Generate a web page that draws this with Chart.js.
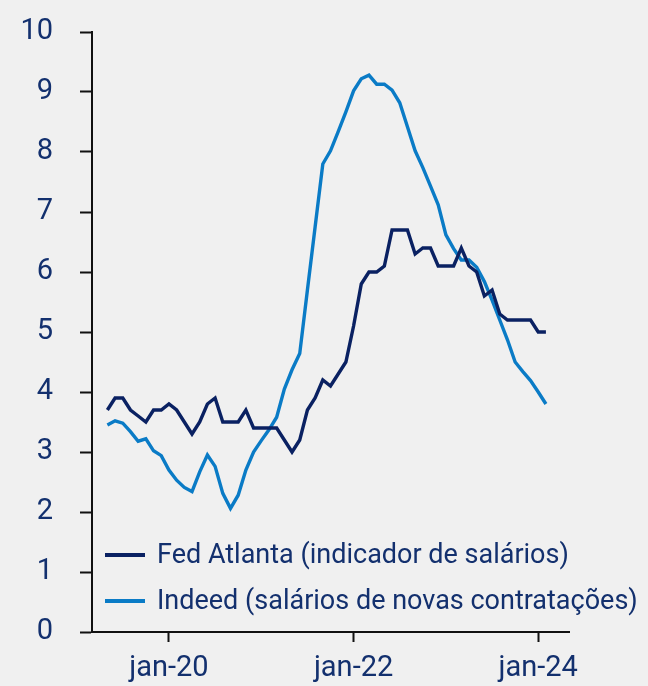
<!DOCTYPE html>
<html>
<head>
<meta charset="utf-8">
<script src="https://cdn.jsdelivr.net/npm/chart.js@4/dist/chart.umd.min.js"></script>
<style>
  html, body { margin: 0; padding: 0; background: #f0f0f0; }
  #wrap { position: relative; width: 648px; height: 686px; }
</style>
</head>
<body>
<div id="wrap"><canvas id="c" width="648" height="686"></canvas></div>
<script>
// Months (YYYY-MM)
const months = [
  '2019-05','2019-06','2019-07','2019-08','2019-09','2019-10','2019-11','2019-12',
  '2020-01','2020-02','2020-03','2020-04','2020-05','2020-06','2020-07','2020-08','2020-09','2020-10','2020-11','2020-12',
  '2021-01','2021-02','2021-03','2021-04','2021-05','2021-06','2021-07','2021-08','2021-09','2021-10','2021-11','2021-12',
  '2022-01','2022-02','2022-03','2022-04','2022-05','2022-06','2022-07','2022-08','2022-09','2022-10','2022-11','2022-12',
  '2023-01','2023-02','2023-03','2023-04','2023-05','2023-06','2023-07','2023-08','2023-09','2023-10','2023-11','2023-12',
  '2024-01','2024-02'
];
// Fed Atlanta wage growth tracker (%)
const fedAtlanta = [
  3.7, 3.9, 3.9, 3.7, 3.6, 3.5, 3.7, 3.7,
  3.8, 3.7, 3.5, 3.3, 3.5, 3.8, 3.9, 3.5, 3.5, 3.5, 3.7, 3.4,
  3.4, 3.4, 3.4, 3.2, 3.0, 3.2, 3.7, 3.9, 4.2, 4.1, 4.3, 4.5,
  5.1, 5.8, 6.0, 6.0, 6.1, 6.7, 6.7, 6.7, 6.3, 6.4, 6.4, 6.1,
  6.1, 6.1, 6.4, 6.1, 6.0, 5.6, 5.7, 5.3, 5.2, 5.2, 5.2, 5.2,
  5.0, 5.0
];
// Indeed posted wages for new hires (%)
const indeed = [
  3.45, 3.52, 3.48, 3.34, 3.18, 3.22, 3.02, 2.94,
  2.70, 2.53, 2.41, 2.34, 2.67, 2.95, 2.76, 2.31, 2.06, 2.28, 2.70, 3.00,
  3.19, 3.37, 3.58, 4.05, 4.37, 4.64, 5.70, 6.75, 7.80, 8.02, 8.34, 8.67,
  9.02, 9.22, 9.28, 9.13, 9.13, 9.03, 8.82, 8.42, 8.02, 7.74, 7.43, 7.12,
  6.62, 6.39, 6.20, 6.20, 6.08, 5.84, 5.53, 5.20, 4.87, 4.50, 4.34, 4.19,
  4.00, 3.80
];
const seriesNames = ['Fed Atlanta (indicador de salários)', 'Indeed (salários de novas contratações)'];
const xTickMonths = ['2020-01', '2022-01', '2024-01'];
const xTickLabels = ['jan-20', 'jan-22', 'jan-24'];
const yTicks = [0,1,2,3,4,5,6,7,8,9,10];

const toIdx = s => { const [y, m] = s.split('-').map(Number); return (y - 2019) * 12 + (m - 1); };
const xs = months.map(toIdx);
const xTickVals = xTickMonths.map(toIdx);

const NAVY = '#0a2162';
const BLUE = '#0a7bc6';
const TEXT = '#13306e';
const FONT = "Roboto, 'Open Sans', sans-serif";

const legendInside = {
  id: 'legendInside',
  afterDraw(chart) {
    const { ctx, chartArea } = chart;
    ctx.save();
    ctx.font = '27px ' + FONT;
    ctx.textBaseline = 'middle';
    const rows = [chartArea.bottom - 77, chartArea.bottom - 31];
    chart.data.datasets.forEach((ds, i) => {
      const y = rows[i];
      ctx.strokeStyle = ds.borderColor;
      ctx.lineWidth = 4;
      ctx.lineCap = 'butt';
      ctx.beginPath();
      ctx.moveTo(chartArea.left + 13, y);
      ctx.lineTo(chartArea.left + 53, y);
      ctx.stroke();
      ctx.fillStyle = TEXT;
      ctx.fillText(ds.label, chartArea.left + 65, y + 1);
    });
    ctx.restore();
  }
};

new Chart(document.getElementById('c'), {
  type: 'line',
  data: {
    datasets: [
      { label: seriesNames[0], data: xs.map((x, i) => ({ x, y: fedAtlanta[i] })), borderColor: NAVY, borderWidth: 3.4, pointRadius: 0, tension: 0, fill: false },
      { label: seriesNames[1], data: xs.map((x, i) => ({ x, y: indeed[i] })), borderColor: BLUE, borderWidth: 3.4, pointRadius: 0, tension: 0, fill: false }
    ]
  },
  options: {
    responsive: false,
    animation: false,
    layout: { padding: { left: 0, right: 79, top: 32, bottom: 0 } },
    plugins: { legend: { display: false }, tooltip: { enabled: false } },
    scales: {
      x: {
        type: 'linear',
        min: 2, max: 64,
        afterBuildTicks: (axis) => { axis.ticks = xTickVals.map(v => ({ value: v })); },
        afterFit: (axis) => { axis.height = 54; axis.paddingLeft = 0; axis.paddingRight = 0; },
        ticks: {
          autoSkip: false, maxRotation: 0,
          color: TEXT, font: { family: FONT, size: 29 }, padding: 9,
          callback: (v) => { const k = xTickVals.indexOf(v); return k >= 0 ? xTickLabels[k] : ''; }
        },
        grid: { drawOnChartArea: false, drawTicks: true, tickLength: 10, tickColor: '#111', tickWidth: 2 },
        border: { display: true, color: '#111', width: 2 }
      },
      y: {
        min: 0, max: 10,
        afterBuildTicks: (axis) => { axis.ticks = yTicks.map(v => ({ value: v })); },
        afterFit: (axis) => { axis.width = 92; axis.paddingTop = 0; axis.paddingBottom = 0; },
        ticks: { color: TEXT, font: { family: FONT, size: 29 }, padding: 27 },
        grid: { drawOnChartArea: false, drawTicks: true, tickLength: 12, tickColor: '#111', tickWidth: 2 },
        border: { display: true, color: '#111', width: 2 }
      }
    }
  },
  plugins: [legendInside]
});
</script>
</body>
</html>
